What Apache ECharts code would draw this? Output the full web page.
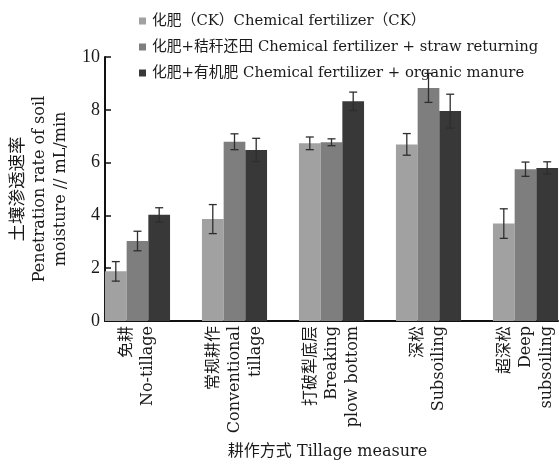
<!DOCTYPE html>
<html>
<head>
<meta charset="utf-8">
<script src="https://cdn.jsdelivr.net/npm/echarts@6/dist/echarts.min.js"></script>
<style>
  html, body { margin: 0; padding: 0; background: #fff; }
  #chart { width: 559px; height: 461px; }
</style>
</head>
<body>
<div id="chart"></div>
<script>
// Tillage treatments (x axis), Chinese name and English lines
const tillageCn = ['免耕', '常规耕作', '打破犁底层', '深松', '超深松'];
const tillageEn = [['No-tillage'], ['Conventional', 'tillage'], ['Breaking', 'plow bottom'], ['Subsoiling'], ['Deep', 'subsoiling']];

// Fertilizer treatments
const seriesNames = [
  '化肥（CK）Chemical fertilizer（CK）',
  '化肥+秸秆还田 Chemical fertilizer + straw returning',
  '化肥+有机肥 Chemical fertilizer + organic manure'
];

// Soil water penetration rate, mL/min: means and error half-widths
const ckMean = [1.88, 3.86, 6.73, 6.69, 3.69];
const ckErr = [0.37, 0.55, 0.24, 0.41, 0.56];
const strawMean = [3.03, 6.79, 6.77, 8.83, 5.75];
const strawErr = [0.37, 0.30, 0.13, 0.55, 0.27];
const organicMean = [4.02, 6.48, 8.32, 7.95, 5.80];
const organicErr = [0.27, 0.44, 0.35, 0.64, 0.23];

const yMin = 0, yMax = 10, yStep = 2;

const colors = ['#a1a1a1', '#7e7e7e', '#383838'];
const serifText = "'DejaVu Serif', 'Noto Sans CJK SC', serif";
const serifDigits = "'Liberation Serif', serif";
const textColor = '#1a1a1a';
const barWidth = 21.7;

const means = [ckMean, strawMean, organicMean];
const errs = [ckErr, strawErr, organicErr];

const chart = echarts.init(document.getElementById('chart'), null, { renderer: 'canvas' });

const barSeries = means.map((m, s) => ({
  name: seriesNames[s],
  type: 'bar',
  barWidth: barWidth,
  barGap: '0%',
  itemStyle: { color: colors[s] },
  data: m.map((v, i) => [i, v]),
  z: 2
}));

// Error bars drawn over each bar, shifted to that bar's slot in the group
const errSeries = means.map((m, s) => ({
  name: 'err' + s,
  type: 'custom',
  z: 3,
  silent: true,
  encode: { x: 0, y: 1 },
  data: m.map((v, i) => [i, v, errs[s][i]]),
  renderItem: function (params, api) {
    const i = api.value(0);
    const mean = api.value(1);
    const e = api.value(2);
    const top = api.coord([i, mean + e]);
    const bot = api.coord([i, mean - e]);
    const x = top[0] + (s - 1) * barWidth;
    const cap = 4;
    const style = { stroke: '#2e2e2e', lineWidth: 1.3 };
    return {
      type: 'group',
      children: [
        { type: 'line', shape: { x1: x, y1: top[1], x2: x, y2: bot[1] }, style: style },
        { type: 'line', shape: { x1: x - cap, y1: top[1], x2: x + cap, y2: top[1] }, style: style },
        { type: 'line', shape: { x1: x - cap, y1: bot[1], x2: x + cap, y2: bot[1] }, style: style }
      ]
    };
  }
}));

const option = {
  backgroundColor: '#ffffff',
  animation: false,
  textStyle: { fontFamily: serifText, color: textColor },
  legend: {
    orient: 'vertical',
    left: 134,
    top: 8,
    itemWidth: 7,
    itemHeight: 7,
    itemGap: 10,
    icon: 'rect',
    data: seriesNames,
    textStyle: { fontFamily: serifText, fontSize: 14.8, lineHeight: 16, color: textColor, padding: [0, 0, 0, 1] }
  },
  grid: { left: 105, right: 1, top: 57, bottom: 140, containLabel: false, outerBoundsMode: 'none' },
  xAxis: {
    type: 'value',
    min: -0.335,
    max: 4.335,
    name: '耕作方式 Tillage measure',
    nameLocation: 'middle',
    nameGap: 123,
    nameTextStyle: { fontFamily: serifText, fontSize: 16, color: textColor, verticalAlign: 'top', padding: [0, 8, 0, 0] },
    axisLine: { show: true, onZero: false, lineStyle: { color: '#111', width: 2 } },
    axisTick: { show: false },
    splitLine: { show: false },
    axisLabel: {
      customValues: [0, 1, 2, 3, 4],
      rotate: 90,
      margin: 5,
      fontFamily: serifText,
      fontSize: 16,
      lineHeight: 21,
      color: textColor,
      formatter: function (v) {
        const i = Math.round(v);
        return [tillageCn[i]].concat(tillageEn[i]).join('\n');
      }
    }
  },
  yAxis: {
    type: 'value',
    min: yMin,
    max: yMax,
    interval: yStep,
    name: '{cn|土壤渗透速率}\n{en|Penetration rate of soil}\n{en|moisture // mL/min}',
    nameLocation: 'middle',
    nameRotate: 90,
    nameGap: 34,
    nameTextStyle: {
      fontFamily: serifText, fontSize: 16, lineHeight: 21, color: textColor,
      rich: {
        cn: { fontFamily: serifText, fontSize: 17.5, lineHeight: 21, color: textColor },
        en: { fontFamily: serifText, fontSize: 16, lineHeight: 21, color: textColor }
      }
    },
    axisLine: { show: true, onZero: false, lineStyle: { color: '#111', width: 2 } },
    axisTick: { show: true, inside: true, length: 6, lineStyle: { color: '#111', width: 1.5 } },
    splitLine: { show: false },
    axisLabel: { fontFamily: serifDigits, fontSize: 18, color: textColor, margin: 5 }
  },
  series: barSeries.concat(errSeries)
};

chart.setOption(option);
</script>
</body>
</html>
